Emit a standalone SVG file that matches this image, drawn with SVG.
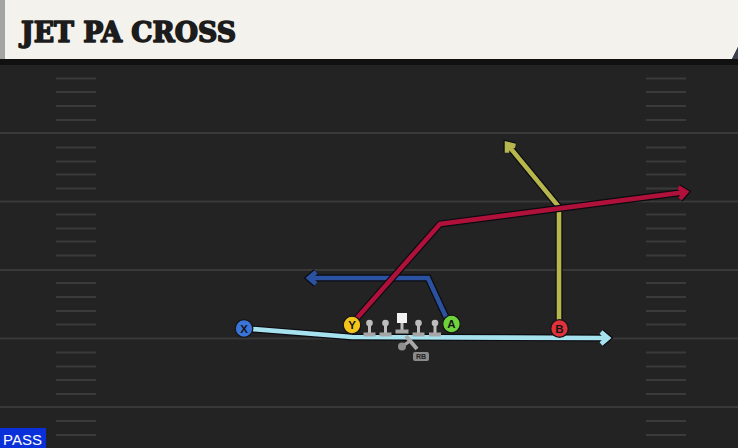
<svg xmlns="http://www.w3.org/2000/svg" width="738" height="448" viewBox="0 0 738 448">
<style>
.yard{stroke:#393939;stroke-width:2}
.hash{stroke:#3a3a3a;stroke-width:2}
.out{fill:none;stroke:#0b0b12;stroke-width:7;stroke-linejoin:miter;stroke-linecap:butt}
.rt{fill:none;stroke-width:4.6;stroke-linejoin:miter;stroke-linecap:butt}
.pc{stroke:#161616;stroke-width:1.3}
.pl{font-family:"Liberation Sans",Arial,sans-serif;font-weight:bold;font-size:11.5px;fill:#151515;text-anchor:middle}
.ol{fill:#bdbdbd}
.olb{fill:#a6a6a6}
</style>
<rect x="0" y="0" width="738" height="448" fill="#232323"/>
<g id="field">
<line class="yard" x1="0" y1="133" x2="738" y2="133"/>
<line class="yard" x1="0" y1="201.5" x2="738" y2="201.5"/>
<line class="yard" x1="0" y1="270" x2="738" y2="270"/>
<line class="yard" x1="0" y1="338.5" x2="738" y2="338.5"/>
<line class="yard" x1="0" y1="407" x2="738" y2="407"/>
<g class="hash">
<line x1="56" y1="78.5" x2="96" y2="78.5"/><line x1="646" y1="78.5" x2="686" y2="78.5"/>
<line x1="56" y1="92" x2="96" y2="92"/><line x1="646" y1="92" x2="686" y2="92"/>
<line x1="56" y1="106" x2="96" y2="106"/><line x1="646" y1="106" x2="686" y2="106"/>
<line x1="56" y1="120" x2="96" y2="120"/><line x1="646" y1="120" x2="686" y2="120"/>
<line x1="56" y1="147.5" x2="96" y2="147.5"/><line x1="646" y1="147.5" x2="686" y2="147.5"/>
<line x1="56" y1="161.5" x2="96" y2="161.5"/><line x1="646" y1="161.5" x2="686" y2="161.5"/>
<line x1="56" y1="174.5" x2="96" y2="174.5"/><line x1="646" y1="174.5" x2="686" y2="174.5"/>
<line x1="56" y1="188.5" x2="96" y2="188.5"/><line x1="646" y1="188.5" x2="686" y2="188.5"/>
<line x1="56" y1="214.5" x2="96" y2="214.5"/><line x1="646" y1="214.5" x2="686" y2="214.5"/>
<line x1="56" y1="228.5" x2="96" y2="228.5"/><line x1="646" y1="228.5" x2="686" y2="228.5"/>
<line x1="56" y1="241.5" x2="96" y2="241.5"/><line x1="646" y1="241.5" x2="686" y2="241.5"/>
<line x1="56" y1="255.5" x2="96" y2="255.5"/><line x1="646" y1="255.5" x2="686" y2="255.5"/>
<line x1="56" y1="283" x2="96" y2="283"/><line x1="646" y1="283" x2="686" y2="283"/>
<line x1="56" y1="297" x2="96" y2="297"/><line x1="646" y1="297" x2="686" y2="297"/>
<line x1="56" y1="311" x2="96" y2="311"/><line x1="646" y1="311" x2="686" y2="311"/>
<line x1="56" y1="324.5" x2="96" y2="324.5"/><line x1="646" y1="324.5" x2="686" y2="324.5"/>
<line x1="56" y1="352.5" x2="96" y2="352.5"/><line x1="646" y1="352.5" x2="686" y2="352.5"/>
<line x1="56" y1="366.5" x2="96" y2="366.5"/><line x1="646" y1="366.5" x2="686" y2="366.5"/>
<line x1="56" y1="380" x2="96" y2="380"/><line x1="646" y1="380" x2="686" y2="380"/>
<line x1="56" y1="394" x2="96" y2="394"/><line x1="646" y1="394" x2="686" y2="394"/>
<line x1="56" y1="421" x2="96" y2="421"/><line x1="646" y1="421" x2="686" y2="421"/>
<line x1="56" y1="435" x2="96" y2="435"/><line x1="646" y1="435" x2="686" y2="435"/>
</g>
</g>
<g id="header">
<rect x="0" y="59" width="738" height="6" fill="#111"/>
<path d="M5 0 H738 V47 L732 59 H5 Z" fill="#f4f2ec"/>
<path d="M732 59 L738 47 V59 Z" fill="#3c4150"/>
<rect x="0" y="0" width="5" height="59" fill="#a3a5a3"/>
<text x="21" y="42" font-family="'DejaVu Serif',serif" font-weight="bold" font-size="27" textLength="215" lengthAdjust="spacingAndGlyphs" fill="#1c1c1c" stroke="#1c1c1c" stroke-width="1.6" stroke-linejoin="round">JET PA CROSS</text>
</g>
<g id="connectors">
<g id="route-x">
<path class="out" d="M252 329 L352 337 L607 338 M601 332 L608 338 L601 344"/>
<path class="rt" stroke="#a6e2ee" d="M252 329 L352 337 L607 338 M601 332 L608 338 L601 344"/>
</g>
<g id="route-a">
<path class="out" d="M446 317 L428 278 L309 278 M316 272 L309 278 L316 284"/>
<path class="rt" stroke="#2b51a1" d="M446 317 L428 278 L309 278 M316 272 L309 278 L316 284"/>
</g>
<g id="route-b">
<path class="out" d="M559 320 L559 207 L507 144 M515.4 146 L507 144 L507 152.8"/>
<path class="rt" stroke="#b6b64c" d="M559 320 L559 207 L507 144 M515.4 146 L507 144 L507 152.8"/>
</g>
<g id="route-y">
<path class="out" d="M357 318 L440 224 L686 192 M678.3 187.2 L686 192 L679.9 199.1"/>
<path class="rt" stroke="#b0113a" d="M357 318 L440 224 L686 192 M678.3 187.2 L686 192 L679.9 199.1"/>
</g>
</g>
<g id="line-ol">
<g id="ol1"><circle class="ol" cx="369.5" cy="323" r="3.3"/><rect class="ol" x="368" y="323" width="3" height="10"/><rect class="olb" x="363.5" y="332.5" width="12" height="4"/></g>
<g id="ol2"><circle class="ol" cx="385.5" cy="323" r="3.3"/><rect class="ol" x="384" y="323" width="3" height="10"/><rect class="olb" x="379.5" y="332.5" width="12" height="4"/></g>
<g id="center"><rect x="397" y="313" width="10" height="10" fill="#f2f2f2"/><rect class="ol" x="400.5" y="323" width="3" height="7"/><rect class="olb" x="395.5" y="329.5" width="13" height="4"/></g>
<g id="ol4"><circle class="ol" cx="418.5" cy="323" r="3.3"/><rect class="ol" x="417" y="323" width="3" height="10"/><rect class="olb" x="412.5" y="332.5" width="12" height="4"/></g>
<g id="ol5"><circle class="ol" cx="435" cy="323" r="3.3"/><rect class="ol" x="433.5" y="323" width="3" height="10"/><rect class="olb" x="429" y="332.5" width="12" height="4"/></g>
</g>
<g id="rb">
<line x1="402" y1="346.5" x2="410" y2="341" stroke="#a8a8a8" stroke-width="3"/>
<line x1="406" y1="336" x2="417" y2="349" stroke="#a8a8a8" stroke-width="4"/>
<circle cx="402" cy="346.5" r="4" fill="#8e8e8e"/>
<rect x="413" y="352" width="16" height="9" rx="2" fill="#8a8a8a"/>
<text x="421" y="359.3" font-family="'Liberation Sans',Arial,sans-serif" font-weight="bold" font-size="7" fill="#222" text-anchor="middle">RB</text>
</g>
<g id="player-x"><circle class="pc" cx="244" cy="328.5" r="8.8" fill="#3a74d9"/><text class="pl" x="244" y="332.5">X</text></g>
<g id="player-y"><circle class="pc" cx="352" cy="325" r="8.8" fill="#f2c51c"/><text class="pl" x="352" y="329">Y</text></g>
<g id="player-a"><circle class="pc" cx="451.5" cy="324" r="8.8" fill="#6fd23a"/><text class="pl" x="451.5" y="328">A</text></g>
<g id="player-b"><circle class="pc" cx="559.5" cy="328.5" r="8.8" fill="#e1323c"/><text class="pl" x="559.5" y="332.5">B</text></g>
<g id="pass-tag">
<rect x="0" y="428" width="46" height="20" fill="#0a31d9"/>
<text x="3" y="444.5" font-family="'Liberation Sans',Arial,sans-serif" font-size="15" textLength="39" lengthAdjust="spacingAndGlyphs" fill="#ffffff">PASS</text>
</g>
</svg>
